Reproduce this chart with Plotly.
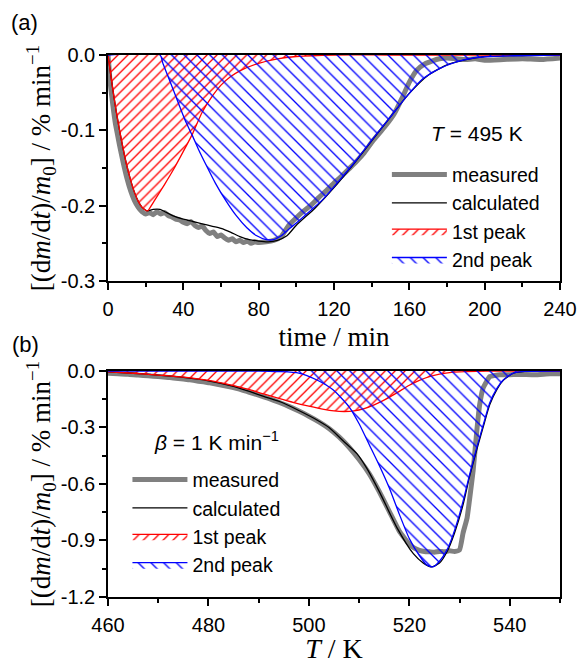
import plotly.graph_objects as go

# ---------------- panel (a): isothermal, T = 495 K ----------------
a_meas_t = [0, 0.5, 1, 2, 3, 4, 6, 8, 10, 12, 14, 16, 18, 20, 22, 24, 26, 28, 30, 32, 34, 36, 38, 40,
            42, 44, 46, 48, 50, 52, 54, 56, 58, 60, 62, 64, 66, 68, 70, 72, 74, 76, 78, 80, 84, 88, 92,
            96, 100, 104, 108, 112, 116, 120, 124, 128, 132, 136, 140, 144, 148, 152, 156, 160, 164,
            168, 172, 176, 180, 185, 190, 195, 200, 210, 220, 230, 240]
a_meas_v = [0, -0.015, -0.033, -0.055, -0.075, -0.092, -0.118, -0.142, -0.163, -0.180, -0.193, -0.202,
            -0.208, -0.211, -0.209, -0.212, -0.208, -0.211, -0.209, -0.213, -0.215, -0.218, -0.219,
            -0.222, -0.224, -0.221, -0.226, -0.229, -0.227, -0.233, -0.237, -0.235, -0.241, -0.239,
            -0.243, -0.246, -0.244, -0.248, -0.246, -0.249, -0.247, -0.250, -0.248, -0.249, -0.248,
            -0.246, -0.241, -0.226, -0.216, -0.207, -0.199, -0.189, -0.180, -0.170, -0.161, -0.151,
            -0.141, -0.130, -0.116, -0.104, -0.092, -0.078, -0.058, -0.036, -0.020, -0.012, -0.008,
            -0.005, -0.004, -0.005, -0.006, -0.005, -0.007, -0.006, -0.005, -0.006, -0.004]

a_calc_t = [0, 1, 2, 3, 4, 5, 6, 8, 10, 12, 14, 16, 18, 20, 21, 24, 27.6, 31, 35, 40, 45, 50, 55, 60,
            65, 70, 75, 80, 85, 90, 95, 100, 110, 120, 130, 140, 150, 160, 170, 180, 190, 200, 215, 240]
a_calc_v = [0, -0.018, -0.036, -0.053, -0.069, -0.084, -0.098, -0.124, -0.147, -0.166, -0.182, -0.194,
            -0.202, -0.206, -0.207, -0.205, -0.205, -0.209, -0.214, -0.218, -0.221, -0.224, -0.227,
            -0.230, -0.235, -0.241, -0.245, -0.247, -0.248, -0.246, -0.240, -0.226, -0.203, -0.176,
            -0.146, -0.114, -0.082, -0.051, -0.027, -0.013, -0.006, -0.002, -0.001, 0]

a_p1_t = [0, 1, 2, 3, 4, 5, 6, 8, 10, 12, 14, 16, 18, 20, 21, 22, 25, 30, 35, 40, 45, 50, 55, 60, 65,
          70, 80, 90, 100, 120, 150, 240]
a_p1_v = [0, -0.018, -0.036, -0.053, -0.069, -0.084, -0.098, -0.124, -0.147, -0.166, -0.182, -0.194,
          -0.202, -0.206, -0.207, -0.204, -0.192, -0.172, -0.151, -0.128, -0.104, -0.076, -0.056,
          -0.040, -0.029, -0.021, -0.011, -0.005, -0.002, 0, 0, 0]

a_p2_t = [0, 27.6, 29, 31, 34.5, 38, 41, 44.6, 48, 52.5, 57, 63, 68, 73.6, 79, 84, 88, 92, 96.6, 100,
          105, 114, 123, 132, 141, 150, 158.6, 167, 176, 185, 194, 203, 215, 240]
a_p2_v = [0, 0, -0.010, -0.023, -0.045, -0.068, -0.087, -0.106, -0.125, -0.148, -0.170, -0.195, -0.213,
          -0.229, -0.240, -0.245, -0.245, -0.240, -0.230, -0.223, -0.212, -0.192, -0.166, -0.139,
          -0.110, -0.082, -0.055, -0.032, -0.018, -0.009, -0.004, -0.002, -0.001, 0]

# ---------------- panel (b): non-isothermal, beta = 1 K/min ----------------
b_meas_T = [460, 462, 464, 466, 468, 470, 472, 474, 476, 478, 480, 482, 484, 486, 488, 490, 492, 494,
            496, 498, 500, 502, 504, 506, 508, 510, 512, 514, 516, 518, 520, 521, 522, 523, 524, 525,
            526, 527, 528, 529, 530, 530.7, 531.5, 532, 532.7, 533.5, 534, 534.7, 536, 537, 538, 540,
            542, 545, 548, 550]
b_meas_v = [-0.012, -0.015, -0.017, -0.022, -0.025, -0.030, -0.034, -0.040, -0.046, -0.054, -0.062,
            -0.072, -0.083, -0.095, -0.112, -0.128, -0.146, -0.166, -0.188, -0.213, -0.240, -0.270,
            -0.305, -0.350, -0.405, -0.470, -0.545, -0.640, -0.745, -0.850, -0.920, -0.940, -0.952,
            -0.958, -0.960, -0.962, -0.958, -0.960, -0.955, -0.958, -0.950, -0.860, -0.780, -0.680,
            -0.530, -0.300, -0.180, -0.090, -0.030, -0.024, -0.020, -0.020, -0.018, -0.020, -0.015,
            -0.015]

b_calc_T = [460, 465, 470, 475, 480, 485, 488.3, 491, 494.9, 498, 501.6, 504, 506.8, 509.6, 511.6,
            514.2, 517.5, 520.8, 522.8, 524.5, 526, 527.5, 529, 530.7, 532, 533.5, 535, 536, 537.5,
            538.7, 540.7, 543, 550]
b_calc_v = [-0.005, -0.012, -0.022, -0.034, -0.052, -0.082, -0.110, -0.135, -0.170, -0.210, -0.260,
            -0.300, -0.370, -0.440, -0.520, -0.650, -0.830, -0.970, -1.020, -1.040, -1.020, -0.960,
            -0.860, -0.710, -0.560, -0.410, -0.270, -0.180, -0.095, -0.050, -0.012, -0.002, 0]

b_p1_T = [460, 465, 470, 475, 480, 485, 488, 491, 494, 497, 500, 503, 505, 507, 509, 511, 513, 516,
          518, 520, 522, 524, 526, 528, 530, 535, 540, 550]
b_p1_v = [-0.005, -0.012, -0.022, -0.033, -0.050, -0.078, -0.098, -0.122, -0.146, -0.168, -0.187,
          -0.204, -0.212, -0.215, -0.212, -0.200, -0.180, -0.140, -0.108, -0.076, -0.050, -0.030,
          -0.017, -0.009, -0.005, -0.001, 0, 0]

b_p2_T = [460, 490, 494, 498, 501.6, 504.8, 508, 510, 512, 514, 516, 518, 520, 522, 523.5, 524.7, 526,
          527.5, 528.7, 530, 531, 532, 533.5, 535, 536, 537.5, 538.7, 540.7, 543, 550]
b_p2_v = [0, 0, -0.003, -0.011, -0.048, -0.100, -0.190, -0.280, -0.390, -0.500, -0.620, -0.760,
          -0.890, -0.980, -1.030, -1.040, -1.010, -0.950, -0.870, -0.760, -0.660, -0.550, -0.400,
          -0.260, -0.170, -0.090, -0.048, -0.011, -0.002, 0]

a_yticks = [0, -0.1, -0.2, -0.3]
a_yticktext = ["0.0", "-0.1", "-0.2", "-0.3"]
a_xticks = [0, 40, 80, 120, 160, 200, 240]
b_yticks = [0, -0.3, -0.6, -0.9, -1.2]
b_yticktext = ["0.0", "-0.3", "-0.6", "-0.9", "-1.2"]
b_xticks = [460, 480, 500, 520, 540]

names = ["measured", "calculated", "1st peak", "2nd peak"]

SANS = "Liberation Sans"
SERIF = "Liberation Serif"
GRAY = "rgb(128,128,128)"

fig = go.Figure()

def add_panel(xs, ys, xaxis, yaxis, legend):
    (mx, my), (cx, cy), (p1x, p1y), (p2x, p2y) = zip(xs, ys)
    fig.add_trace(go.Scatter(x=mx, y=my, mode="lines", name=names[0], xaxis=xaxis, yaxis=yaxis,
                             legend=legend, line=dict(color=GRAY, width=5, shape="spline", smoothing=0.4)))
    fig.add_trace(go.Scatter(x=cx, y=cy, mode="lines", name=names[1], xaxis=xaxis, yaxis=yaxis,
                             legend=legend, line=dict(color="black", width=1.3, shape="spline", smoothing=0.6)))
    fig.add_trace(go.Scatter(x=p1x, y=p1y, mode="lines", name=names[2], xaxis=xaxis, yaxis=yaxis,
                             legend=legend, fill="tozeroy", fillcolor="rgba(0,0,0,0)",
                             fillpattern=dict(shape="/", fgcolor="red", bgcolor="rgba(0,0,0,0)",
                                              fgopacity=1, size=7, solidity=0.19),
                             line=dict(color="red", width=1.3, shape="spline", smoothing=0.6)))
    fig.add_trace(go.Scatter(x=p2x, y=p2y, mode="lines", name=names[3], xaxis=xaxis, yaxis=yaxis,
                             legend=legend, fill="tozeroy", fillcolor="rgba(0,0,0,0)",
                             fillpattern=dict(shape="\\", fgcolor="blue", bgcolor="rgba(0,0,0,0)",
                                              fgopacity=1, size=9, solidity=0.15),
                             line=dict(color="blue", width=1.3, shape="spline", smoothing=0.6)))

add_panel([a_meas_t, a_calc_t, a_p1_t, a_p2_t], [a_meas_v, a_calc_v, a_p1_v, a_p2_v], "x", "y", "legend")
add_panel([b_meas_T, b_calc_T, b_p1_T, b_p2_T], [b_meas_v, b_calc_v, b_p1_v, b_p2_v], "x2", "y2", "legend2")

ytitle = "[(d<i>m</i>/d<i>t</i>)/<i>m</i><sub>0</sub>] / % min<sup>\u22121</sup>"
axis_common = dict(showline=True, linecolor="black", linewidth=1.5, mirror=True, ticks="outside",
                   ticklen=7, tickwidth=1.5, tickcolor="black", showgrid=False, zeroline=False,
                   automargin=False, tickfont=dict(family=SANS, size=20, color="black"))
minor_common = dict(ticks="outside", ticklen=4, tickwidth=1.5, tickcolor="black", showgrid=False)

fig.update_layout(
    width=581, height=664, paper_bgcolor="white", plot_bgcolor="white",
    margin=dict(l=108, r=21, t=55, b=67),
    xaxis=dict(domain=[0, 1], range=[0, 240], tickvals=a_xticks, anchor="y", ticklabelstandoff=2,
               minor=dict(dtick=20, **minor_common),
               title=dict(text="time / min", font=dict(family=SERIF, size=27, color="black"), standoff=8),
               **axis_common),
    yaxis=dict(domain=[0.583, 1], range=[-0.3, 0], tickvals=a_yticks, ticktext=a_yticktext, anchor="x",
               minor=dict(dtick=0.05, **minor_common),
               title=dict(text=ytitle, font=dict(family=SERIF, size=27, color="black"), standoff=2),
               **axis_common),
    xaxis2=dict(domain=[0, 1], range=[460, 550], tickvals=b_xticks, anchor="y2", ticklabelstandoff=2,
                minor=dict(dtick=10, **minor_common),
                title=dict(text="<i>T</i> / K", font=dict(family=SERIF, size=28, color="black"), standoff=8),
                **axis_common),
    yaxis2=dict(domain=[0, 0.417], range=[-1.2, 0], tickvals=b_yticks, ticktext=b_yticktext, anchor="x2",
                minor=dict(dtick=0.15, **minor_common),
                title=dict(text=ytitle, font=dict(family=SERIF, size=27, color="black"), standoff=2),
                **axis_common),
    legend=dict(x=0.617, y=0.815, xanchor="left", yanchor="top", bgcolor="rgba(0,0,0,0)",
                font=dict(family=SANS, size=19.5, color="black"), itemwidth=55, tracegroupgap=0),
    legend2=dict(x=0.043, y=0.252, xanchor="left", yanchor="top", bgcolor="rgba(0,0,0,0)",
                 font=dict(family=SANS, size=19.5, color="black"), itemwidth=55, tracegroupgap=0),
    annotations=[
        dict(text="(a)", xref="paper", yref="paper", x=-0.185, y=1.06, xanchor="center", yanchor="middle",
             showarrow=False, font=dict(family=SANS, size=22, color="black")),
        dict(text="(b)", xref="paper", yref="paper", x=-0.183, y=0.465, xanchor="center", yanchor="middle",
             showarrow=False, font=dict(family=SANS, size=22, color="black")),
        dict(text="<i>T</i> = 495 K", xref="paper", yref="paper", x=0.816, y=0.856, xanchor="center",
             yanchor="middle", showarrow=False, font=dict(family=SANS, size=21, color="black")),
        dict(text="<i>\u03b2</i> = 1 K min<sup>\u22121</sup>", xref="paper", yref="paper", x=0.241, y=0.287,
             xanchor="center", yanchor="middle", showarrow=False, font=dict(family=SANS, size=21, color="black")),
    ],
)

fig.write_html("out.html")
